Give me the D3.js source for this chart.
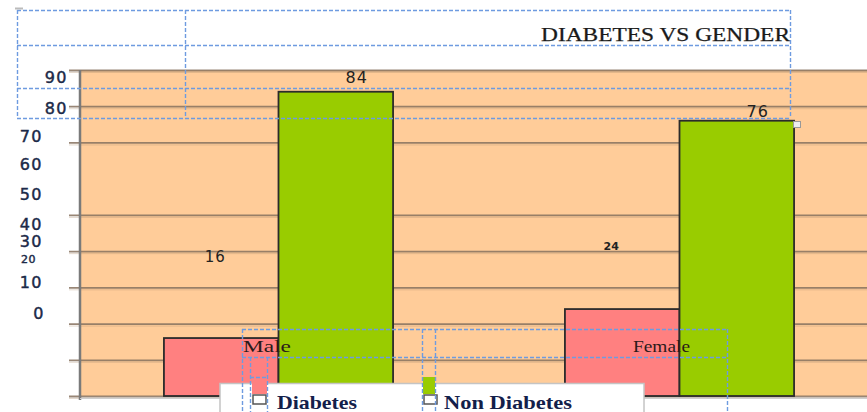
<!DOCTYPE html>
<html><head><meta charset="utf-8">
<script src="https://cdn.jsdelivr.net/npm/d3@7"></script>
<style>
html,body{margin:0;padding:0;background:#fff;overflow:hidden}
svg{display:block}
</style></head>
<body>
<svg id="chart" width="867" height="412"></svg>
<script>
// ---- data ----
const categories = ["Male", "Female"];
const seriesNames = ["Diabetes", "Non Diabetes"];
const diabetesValues = [16, 24];
const nonDiabetesValues = [84, 76];
const tickValues = [90, 80, 70, 60, 50, 40, 30, 20, 10, 0];
const tickLabels = ["90", "80", "70", "60", "50", "40", "30", "20", "10", "0"];
const gridValues = [0, 10, 20, 30, 40, 50, 70, 80, 90];
const titleText = "DIABETES VS GENDER";

// ---- layout ----
const W = 867, H = 412;
const plot = {left: 80, top: 70, bottom: 396, right: 880};
const colors = {"Diabetes": "#FF8080", "Non Diabetes": "#99CC00"};
const dash = "#6E9BE0";
// label placement quirks of the original (offsets from tick position)
const tickLabelDy = [7, 2, -6, -14, -20, -27, -46, -64, -77, -83];
const tickLabelStyle = [
  {x: 68, size: 16}, {x: 68, size: 16},
  {x: 43, size: 16}, {x: 43, size: 16},
  {x: 43, size: 16}, {x: 43, size: 16},
  {x: 43, size: 16}, {x: 36, size: 11},
  {x: 43, size: 16}, {x: 45, size: 16}
];

const svg = d3.select("#chart");

const y = d3.scaleLinear().domain([0, 90]).range([plot.bottom, plot.top]);
const x0 = d3.scaleBand().domain(categories).range([78, 880]).paddingInner(0).paddingOuter(0);
const x1 = d3.scaleBand().domain(seriesNames).range([0, x0.bandwidth()]).paddingInner(0).paddingOuter(0.75);

const defs = svg.append("defs");
defs.append("clipPath").attr("id", "clipPlot").append("rect")
  .attr("x", 0).attr("y", 0).attr("width", W).attr("height", H);

// plot background
svg.append("rect").attr("x", plot.left).attr("y", plot.top)
  .attr("width", W - plot.left).attr("height", plot.bottom - plot.top)
  .attr("fill", "#FFCC99");

// gridlines + outer ticks
const gridAxis = d3.axisLeft(y).tickValues(gridValues).tickSizeInner(-(W - 69)).tickSizeOuter(0).tickFormat("");
const gg2 = svg.append("g").attr("transform", "translate(69,2)").call(gridAxis);
gg2.select(".domain").remove();
gg2.selectAll(".tick line").attr("stroke", "#B09070").attr("stroke-width", 1).attr("stroke-opacity", 0.35);
const gg = svg.append("g").attr("transform", "translate(69,0)").call(gridAxis);
gg.select(".domain").remove();
gg.selectAll(".tick line").attr("stroke", "#86715E").attr("stroke-width", 1.8).attr("stroke-opacity", 0.85);

// bars
const rows = categories.map((c, i) => ({cat: c, vals: [
  {s: "Diabetes", v: diabetesValues[i]}, {s: "Non Diabetes", v: nonDiabetesValues[i]}]}));
const bars = svg.append("g").attr("clip-path", "url(#clipPlot)");
rows.forEach(r => {
  r.vals.forEach(d => {
    bars.append("rect")
      .attr("x", x0(r.cat) + x1(d.s))
      .attr("y", y(d.v))
      .attr("width", x1.bandwidth())
      .attr("height", y(0) - y(d.v))
      .attr("fill", colors[d.s])
      .attr("stroke", "#2b2b2b").attr("stroke-width", 1.8);
  });
});

// left axis line
svg.append("line").attr("x1", plot.left).attr("x2", plot.left)
  .attr("y1", plot.top).attr("y2", 400)
  .attr("stroke", "#7a7a7a").attr("stroke-width", 2.5);
// bottom light line
svg.append("line").attr("x1", plot.left).attr("x2", W).attr("y1", 398.5).attr("y2", 398.5)
  .attr("stroke", "#cfcfcf").attr("stroke-width", 1);

// tick labels
svg.append("g").selectAll("text").data(tickValues).join("text")
  .attr("x", (d, i) => tickLabelStyle[i].x)
  .attr("y", (d, i) => y(d) + tickLabelDy[i])
  .attr("dy", "0.35em")
  .attr("text-anchor", "end")
  .attr("font-family", "DejaVu Sans, sans-serif")
  .attr("font-size", (d, i) => tickLabelStyle[i].size)
  .attr("letter-spacing", (d, i) => tickLabelStyle[i].size > 12 ? 1.5 : 0.5)
  .attr("fill", "#1c2a48").attr("stroke", "#1c2a48").attr("stroke-width", 0.45)
  .text((d, i) => tickLabels[i]);

// data labels (offsets mimic the original placement)
const valueLabels = [
  {cat: "Male", s: "Non Diabetes", v: nonDiabetesValues[0], dx: 21, dy: -9, size: 16},
  {cat: "Female", s: "Non Diabetes", v: nonDiabetesValues[1], dx: 21, dy: -4, size: 16},
  {cat: "Male", s: "Diabetes", v: diabetesValues[0], dx: -6, dy: -76, size: 15},
  {cat: "Female", s: "Diabetes", v: diabetesValues[1], dx: -11, dy: -59, size: 11}
];
svg.append("g").selectAll("text").data(valueLabels).join("text")
  .attr("x", d => x0(d.cat) + x1(d.s) + x1.bandwidth() / 2 + d.dx)
  .attr("y", d => y(d.v) + d.dy)
  .attr("text-anchor", "middle")
  .attr("font-family", "DejaVu Sans, sans-serif")
  .attr("font-size", d => d.size)
  .attr("font-weight", d => d.size < 12 ? "bold" : "normal")
  .attr("letter-spacing", d => d.size < 12 ? 0 : 1)
  .attr("fill", "#222")
  .text(d => d.v);

// title
svg.append("text").attr("x", 541).attr("y", 41)
  .attr("font-family", "Liberation Serif, serif").attr("font-size", 18)
  .attr("textLength", 249).attr("lengthAdjust", "spacingAndGlyphs")
  .attr("fill", "#1a1a1a").attr("stroke", "#1a1a1a").attr("stroke-width", 0.25).text(titleText);

// category labels
const catLabelPos = {"Male": {x: 243, w: 48}, "Female": {x: 633, w: 57}};
svg.append("g").selectAll("text").data(categories).join("text")
  .attr("x", d => catLabelPos[d].x).attr("y", 352)
  .attr("font-family", "Liberation Serif, serif").attr("font-size", 17)
  .attr("textLength", d => catLabelPos[d].w).attr("lengthAdjust", "spacingAndGlyphs")
  .attr("fill", "#2a1a1a").text(d => d);

// legend box
svg.append("rect").attr("x", 220).attr("y", 383.5).attr("width", 424).attr("height", 40)
  .attr("fill", "#fff").attr("stroke", "#c4c4c4").attr("stroke-width", 1.5);

// legend swatches
const legendItems = [
  {s: seriesNames[0], sx: 252, sy: 357, sw: 15, sh: 37, cx: 253, tx: 277, tw: 80},
  {s: seriesNames[1], sx: 423, sy: 377, sw: 12, sh: 17, cx: 424, tx: 444, tw: 128}
];
legendItems.forEach(it => {
  svg.append("rect").attr("x", it.sx).attr("y", it.sy).attr("width", it.sw).attr("height", it.sh)
    .attr("fill", colors[it.s]);
  svg.append("rect").attr("x", it.cx).attr("y", 395).attr("width", 13).attr("height", 9)
    .attr("fill", "#fff").attr("stroke", "#555").attr("stroke-width", 1.5);
  svg.append("text").attr("x", it.tx).attr("y", 409)
    .attr("font-family", "Liberation Serif, serif").attr("font-size", 19).attr("font-weight", "bold")
    .attr("textLength", it.tw).attr("lengthAdjust", "spacingAndGlyphs")
    .attr("fill", "#13204a").text(it.s);
});

// dashed selection frames
const dg = svg.append("g").attr("stroke", dash).attr("stroke-width", 1.4)
  .attr("stroke-dasharray", "4,2").attr("fill", "none");
const seg = (x1_, y1_, x2_, y2_) => dg.append("line")
  .attr("x1", x1_).attr("y1", y1_).attr("x2", x2_).attr("y2", y2_);
[10.5, 45.5, 88.5, 118.5].forEach(yy => seg(17, yy, 790, yy));
[17.5, 185.5, 790.5].forEach(xx => seg(xx, 10, xx, 118));
seg(242, 329.5, 727, 329.5);
seg(242, 357.5, 727, 357.5);
seg(242.5, 329, 242.5, 412);
seg(250.5, 357, 250.5, 412);
seg(267.5, 357, 267.5, 412);
seg(250, 377.5, 267, 377.5);
seg(422.5, 329, 422.5, 412);
seg(435.5, 329, 435.5, 412);
seg(727.5, 329, 727.5, 412);
// small handles
svg.append("rect").attr("x", 793.5).attr("y", 121.5).attr("width", 7).attr("height", 6)
  .attr("fill", "#eee").attr("stroke", "#999").attr("stroke-width", 1);
svg.append("rect").attr("x", 15).attr("y", 7.5).attr("width", 8).attr("height", 2)
  .attr("fill", "#bbb");
</script>
</body></html>
